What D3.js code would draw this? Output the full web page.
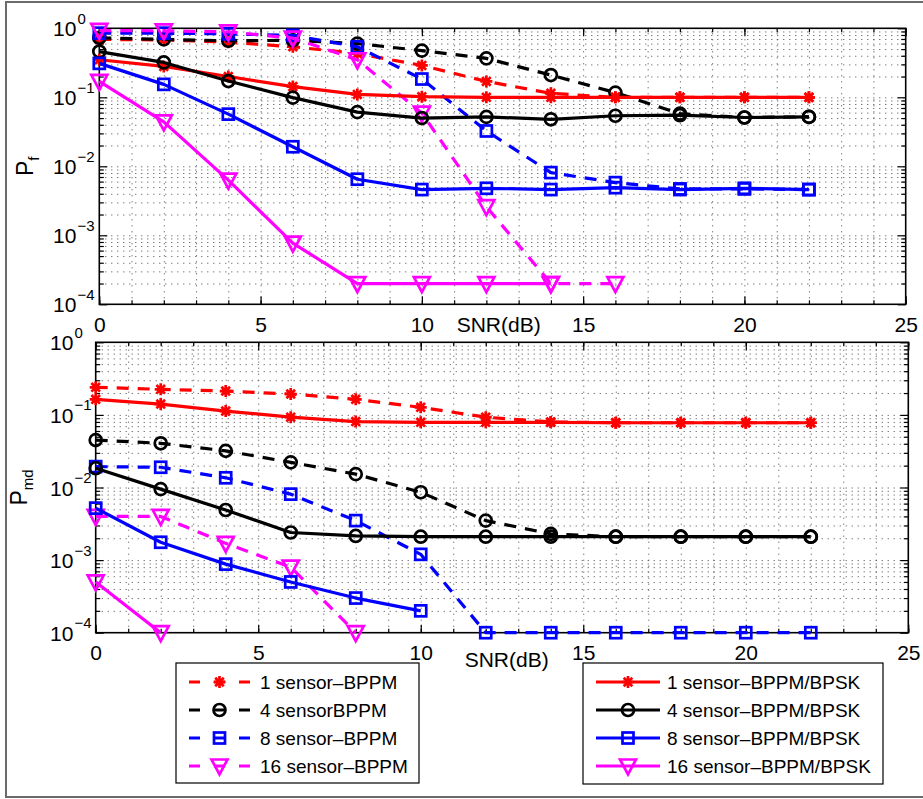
<!DOCTYPE html>
<html>
<head>
<meta charset="utf-8">
<script src="https://cdn.jsdelivr.net/npm/d3@7"></script>
<style>
  html, body { margin: 0; padding: 0; background: #fff; }
  svg { display: block; font-family: "Liberation Sans", Arial, Helvetica, sans-serif; }
</style>
</head>
<body>
<svg id="chart" width="923" height="799"></svg>
<script>
// ---------- data ----------
const snrDb = [0, 2, 4, 6, 8, 10, 12, 14, 16, 18, 20, 22];

// False-alarm probability, BPPM only (dashed curves)
const pfBppm1  = [0.69, 0.68, 0.63, 0.54, 0.43, 0.29, 0.17, 0.114, 0.1, 0.1, 0.1, 0.1];
const pfBppm4  = [0.73, 0.69, 0.66, 0.67, 0.6, 0.475, 0.367, 0.21, 0.117, 0.058, 0.051, 0.052];
const pfBppm8  = [0.85, 0.85, 0.83, 0.79, 0.54, 0.184, 0.0325, 0.0081, 0.0058, 0.0047, 0.0047, 0.0046];
const pfBppm16 = [0.93, 0.92, 0.89, 0.72, 0.35, 0.059, 0.0026, 0.0002, 0.0002];

// False-alarm probability, BPPM/BPSK (solid curves)
const pfHyb1  = [0.35, 0.28, 0.2, 0.143, 0.11, 0.102, 0.1, 0.1, 0.1, 0.1, 0.1, 0.1];
const pfHyb4  = [0.46, 0.32, 0.172, 0.099, 0.061, 0.05, 0.052, 0.048, 0.054, 0.055, 0.051, 0.052];
const pfHyb8  = [0.31, 0.154, 0.057, 0.0192, 0.0065, 0.0046, 0.0048, 0.0046, 0.0049, 0.0046, 0.0048, 0.0046];
const pfHyb16 = [0.17, 0.044, 0.0063, 0.00077, 0.0002, 0.0002, 0.0002, 0.0002];

// Missed-detection probability, BPPM only (dashed curves)
const pmdBppm1  = [0.24, 0.225, 0.213, 0.194, 0.164, 0.127, 0.093, 0.08, 0.078, 0.078, 0.078, 0.078];
const pmdBppm4  = [0.045, 0.0406, 0.032, 0.0222, 0.0153, 0.0086, 0.0035, 0.0023, 0.0021, 0.0021, 0.0021, 0.0021];
const pmdBppm8  = [0.0194, 0.019, 0.0136, 0.0081, 0.0035, 0.0012, 0.0001, 0.0001, 0.0001, 0.0001, 0.0001, 0.0001];
const pmdBppm16 = [0.004, 0.004, 0.0017, 0.0008, 0.0001];

// Missed-detection probability, BPPM/BPSK (solid curves)
const pmdHyb1  = [0.164, 0.141, 0.113, 0.093, 0.081, 0.079, 0.079, 0.079, 0.078, 0.078, 0.078, 0.078];
const pmdHyb4  = [0.0184, 0.0095, 0.0049, 0.0024, 0.00215, 0.0021, 0.0021, 0.0021, 0.0021, 0.0021, 0.0021, 0.0021];
const pmdHyb8  = [0.0052, 0.00176, 0.00088, 0.0005, 0.0003, 0.0002];
const pmdHyb16 = [0.0005, 0.0001];

const legendLeftLabels  = ["1 sensor\u2013BPPM", "4 sensorBPPM", "8 sensor\u2013BPPM", "16 sensor\u2013BPPM"];
const legendRightLabels = ["1 sensor\u2013BPPM/BPSK", "4 sensor\u2013BPPM/BPSK", "8 sensor\u2013BPPM/BPSK", "16 sensor\u2013BPPM/BPSK"];

const xTicks = [0, 5, 10, 15, 20, 25];
const yTickExps = [0, -1, -2, -3, -4];

// ---------- styling ----------
const colors  = ["#ff0000", "#000000", "#0000ff", "#ff00ff"];
const markers = ["star", "circle", "square", "tri"];
const DASH = "12,9";
const LW = 3.2;

const svg = d3.select("#chart");
const FONT = 21;

// outer frame
svg.append("rect").attr("x", 6).attr("y", 2).attr("width", 960).attr("height", 795)
  .attr("fill", "none").attr("stroke", "#6b6b6b").attr("stroke-width", 2);

function drawMarker(g, type, color) {
  const s = g.append(type === "circle" ? "circle" : type === "square" ? "rect" : "path")
    .attr("fill", "none").attr("stroke", color).attr("stroke-width", 2.7);
  if (type === "star") s.attr("d", "M-6,0H6M0,-6V6M-4.3,-4.3L4.3,4.3M-4.3,4.3L4.3,-4.3");
  if (type === "circle") s.attr("r", 6);
  if (type === "square") s.attr("x", -5.5).attr("y", -5.5).attr("width", 11).attr("height", 11);
  if (type === "tri") s.attr("d", "M-8,-6.5L8,-6.5L0,8.5Z").attr("stroke-linejoin", "miter");
}

function drawPanel(box, dashedSets, solidSets, sub, cfg) {
  const g = svg.append("g");
  const x = d3.scaleLinear().domain([0, 25]).range([box.left, box.right]);
  const y = d3.scaleLog().domain([1e-4, 1]).range([box.bottom, box.top]);
  const h = box.bottom - box.top, w = box.right - box.left;

  const minorY = [];
  for (let e = -4; e < 0; e++) for (let m = 2; m <= 9; m++) minorY.push(m * Math.pow(10, e));
  const majorY = yTickExps.map(e => Math.pow(10, e));
  const gridX = d3.range(1, 25);
  const gridY = minorY.concat([1e-3, 1e-2, 1e-1]);

  // dotted grid
  const gx = g.append("g").attr("transform", `translate(0,${box.bottom})`)
    .call(d3.axisBottom(x).tickValues(gridX).tickSize(-h).tickFormat(""));
  const gy = g.append("g").attr("transform", `translate(${box.left},0)`)
    .call(d3.axisLeft(y).tickValues(gridY).tickSize(-w).tickFormat(""));
  [gx, gy].forEach(a => {
    a.select(".domain").remove();
    a.selectAll("line").attr("stroke", "#444").attr("stroke-width", 1).attr("stroke-dasharray", "1,5");
  });

  // inward ticks on all four sides
  const tickAxes = [
    [d3.axisBottom(x).tickValues(xTicks), `translate(0,${box.bottom})`, 8],
    [d3.axisTop(x).tickValues(xTicks), `translate(0,${box.top})`, 8],
    [d3.axisBottom(x).tickValues(d3.range(0, 26)), `translate(0,${box.bottom})`, 4],
    [d3.axisTop(x).tickValues(d3.range(0, 26)), `translate(0,${box.top})`, 4],
    [d3.axisLeft(y).tickValues(majorY), `translate(${box.left},0)`, 8],
    [d3.axisRight(y).tickValues(majorY), `translate(${box.right},0)`, 8],
    [d3.axisLeft(y).tickValues(minorY), `translate(${box.left},0)`, 4.5],
    [d3.axisRight(y).tickValues(minorY), `translate(${box.right},0)`, 4.5]
  ];
  tickAxes.forEach(([ax, tr, len]) => {
    const a = g.append("g").attr("transform", tr).call(ax.tickSize(-len).tickFormat(""));
    a.select(".domain").remove();
    a.selectAll("line").attr("stroke", "#000").attr("stroke-width", 1.2);
  });

  // x tick labels
  const xl = g.append("g").attr("transform", `translate(0,${box.bottom})`)
    .call(d3.axisBottom(x).tickValues(xTicks).tickSize(0).tickFormat(d3.format("d")));
  xl.select(".domain").remove();
  xl.selectAll("text").attr("y", 27.7).attr("dy", null)
    .attr("font-size", FONT).attr("font-family", null).attr("fill", "#000");

  // y tick labels as 10^k
  const yl = g.append("g").attr("transform", `translate(${box.left},0)`)
    .call(d3.axisLeft(y).tickValues(majorY).tickSize(0).tickFormat(""));
  yl.select(".domain").remove();
  yl.selectAll(".tick").each(function (d) {
    const t = d3.select(this);
    const e = Math.round(Math.log10(d));
    t.append("text").attr("x", cfg.tickLabelX - box.left).attr("y", 7.5)
      .attr("font-size", FONT).attr("text-anchor", "start").attr("fill", "#000").text("10");
    t.append("text").attr("x", cfg.tickLabelX - box.left + 24.5).attr("y", -5)
      .attr("font-size", 15).attr("text-anchor", "start").attr("fill", "#000")
      .text(e === 0 ? "0" : "\u2212" + Math.abs(e));
  });

  // axis box
  g.append("rect").attr("x", box.left).attr("y", box.top).attr("width", w).attr("height", h)
    .attr("fill", "none").attr("stroke", "#000").attr("stroke-width", 1.6);

  // axis titles
  g.append("text").attr("x", cfg.snrX).attr("y", cfg.snrY).attr("text-anchor", "middle")
    .attr("font-size", FONT).text("SNR(dB)");
  const yt = g.append("text")
    .attr("transform", `translate(${cfg.pX},${(box.top + box.bottom) / 2}) rotate(-90)`)
    .attr("text-anchor", "middle").attr("font-size", 23);
  yt.append("tspan").text("P");
  yt.append("tspan").attr("font-size", 15).attr("dy", 6).text(sub);

  // curves
  const line = d3.line().x(d => x(d[0])).y(d => y(d[1]));
  const drawSet = (vals, i, dashed) => {
    const pts = vals.map((v, k) => [snrDb[k], v]);
    g.append("path").datum(pts).attr("d", line)
      .attr("fill", "none").attr("stroke", colors[i]).attr("stroke-width", LW)
      .attr("stroke-linejoin", "round")
      .attr("stroke-dasharray", dashed ? DASH : null);
    pts.forEach(p => {
      const m = g.append("g").attr("transform", `translate(${x(p[0])},${y(p[1])})`);
      drawMarker(m, markers[i], colors[i]);
    });
  };
  dashedSets.forEach((v, i) => drawSet(v, i, true));
  solidSets.forEach((v, i) => drawSet(v, i, false));
}

drawPanel({ left: 99.3, right: 905.7, top: 28.3, bottom: 304.3 },
  [pfBppm1, pfBppm4, pfBppm8, pfBppm16], [pfHyb1, pfHyb4, pfHyb8, pfHyb16], "f",
  { tickLabelX: 53, snrX: 498.7, snrY: 332, pX: 33 });

drawPanel({ left: 95.7, right: 908.3, top: 342.3, bottom: 632.7 },
  [pmdBppm1, pmdBppm4, pmdBppm8, pmdBppm16], [pmdHyb1, pmdHyb4, pmdHyb8, pmdHyb16], "md",
  { tickLabelX: 50, snrX: 506.7, snrY: 667, pX: 27 });

// ---------- legends ----------
function drawLegend(bx, labels, dashed, lineX0, lineX1, textX) {
  const lg = svg.append("g");
  lg.append("rect").attr("x", bx.x).attr("y", bx.y).attr("width", bx.w).attr("height", bx.h)
    .attr("fill", "#fff").attr("stroke", "#000").attr("stroke-width", 1.2);
  const rowY = d3.scalePoint().domain(d3.range(labels.length)).range([682, 766]);
  labels.forEach((lab, i) => {
    const cy = rowY(i);
    lg.append("line").attr("x1", lineX0).attr("x2", lineX1).attr("y1", cy).attr("y2", cy)
      .attr("stroke", colors[i]).attr("stroke-width", LW)
      .attr("stroke-dasharray", dashed ? "11,14" : null);
    const m = lg.append("g").attr("transform", `translate(${(lineX0 + lineX1) / 2},${cy})`);
    drawMarker(m, markers[i], colors[i]);
    lg.append("text").attr("x", textX).attr("y", cy + 6.8).attr("font-size", 19).text(lab);
  });
}
drawLegend({ x: 176, y: 663, w: 243, h: 120 }, legendLeftLabels, true, 189, 250, 260);
drawLegend({ x: 583, y: 663, w: 300, h: 121 }, legendRightLabels, false, 596, 660, 667);
</script>
</body>
</html>
